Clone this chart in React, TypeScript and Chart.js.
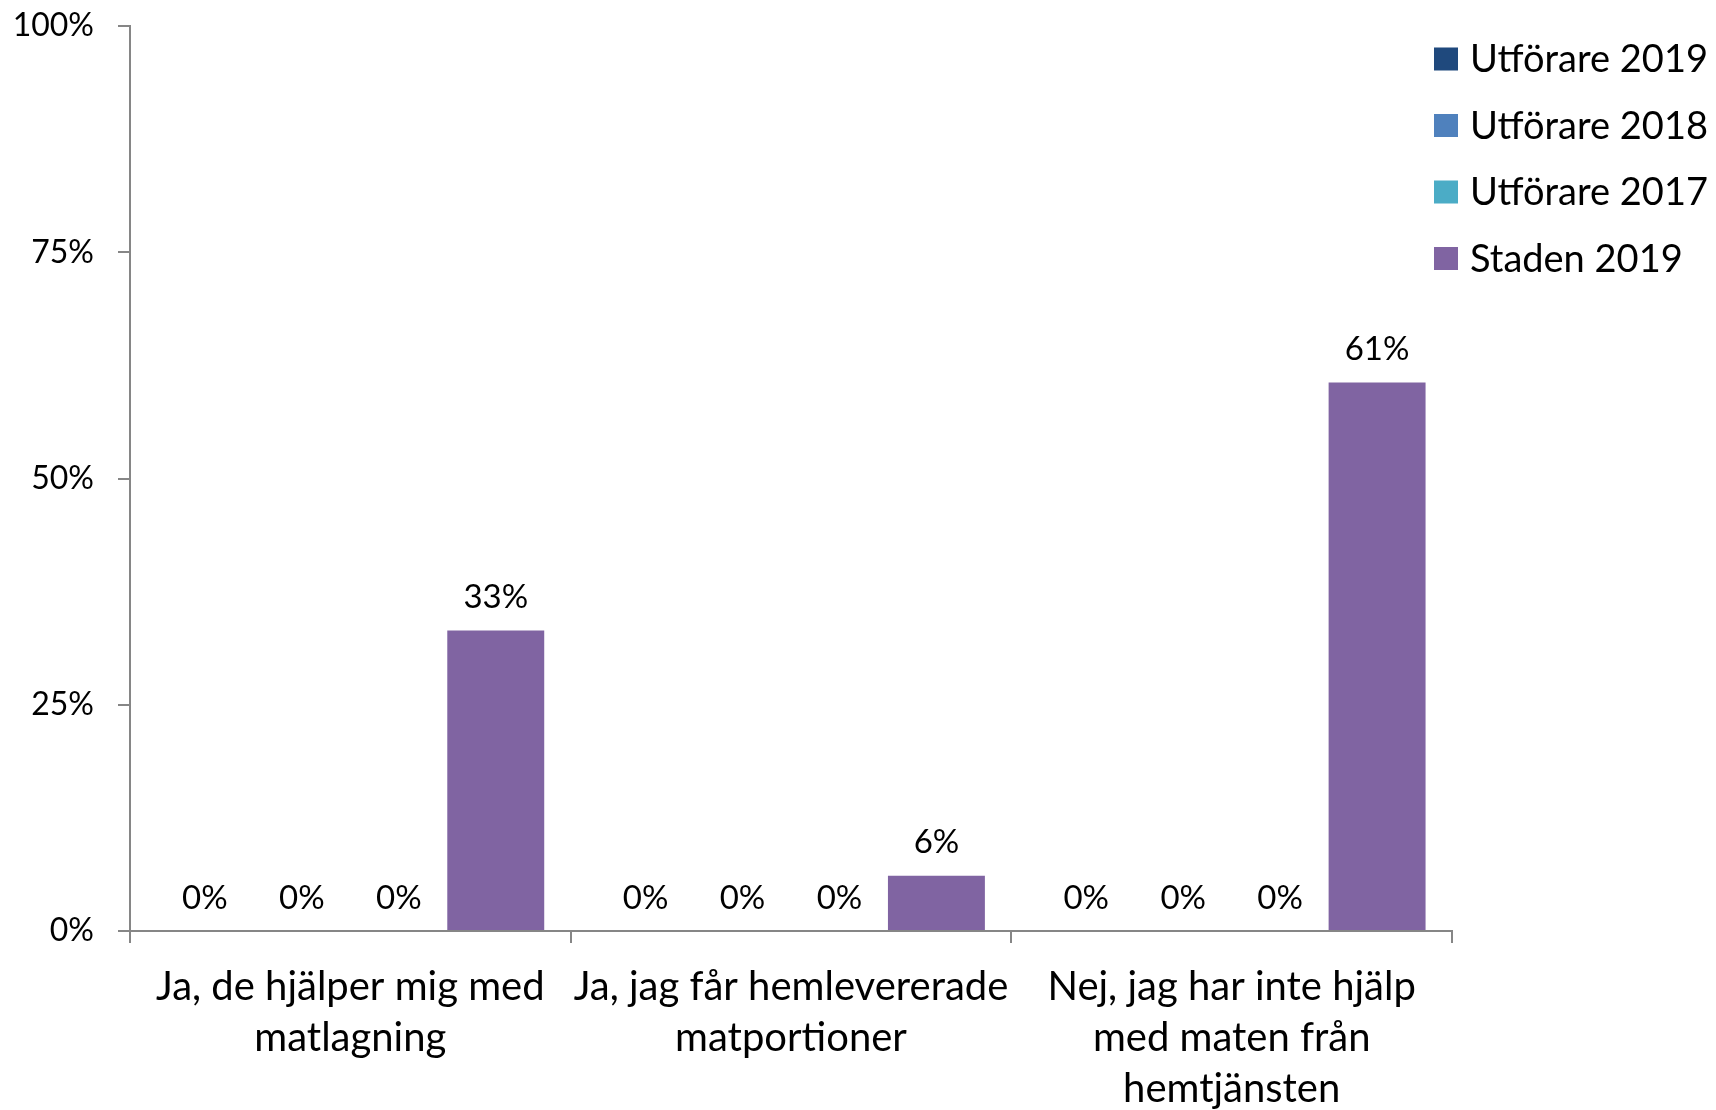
import React, { useEffect, useRef } from 'react';
import { Chart, registerables } from 'chart.js';

Chart.register(...registerables);

const categories: string[][] = [
  ['Ja, de hjälper mig med', 'matlagning'],
  ['Ja, jag får hemlevererade', 'matportioner'],
  ['Nej, jag har inte hjälp', 'med maten från', 'hemtjänsten'],
];
const seriesNames = ['Utförare 2019', 'Utförare 2018', 'Utförare 2017', 'Staden 2019'];
const utforare2019 = [0, 0, 0];
const utforare2018 = [0, 0, 0];
const utforare2017 = [0, 0, 0];
const staden2019 = [33.2, 6.1, 60.6];
const yTickValues = [0, 25, 50, 75, 100];
const seriesColors = ['#1F497D', '#4F81BD', '#4BACC6', '#8064A2'];

const FONT = 'Lato';
const AXIS_COLOR = '#868686';

const valueLabels = {
  id: 'valueLabels',
  afterDatasetsDraw(chart: any) {
    const ctx = chart.ctx;
    ctx.save();
    ctx.font = `33px ${FONT}`;
    ctx.fillStyle = '#000';
    ctx.textAlign = 'center';
    ctx.textBaseline = 'middle';
    chart.data.datasets.forEach((ds: any, i: number) => {
      const meta = chart.getDatasetMeta(i);
      meta.data.forEach((el: any, j: number) => {
        const v = ds.data[j];
        ctx.fillText(Math.round(v) + '%', el.x, el.y - 33);
      });
    });
    ctx.restore();
  },
};

const sideLegend = {
  id: 'sideLegend',
  afterDraw(chart: any) {
    const ctx = chart.ctx;
    const x0 = chart.chartArea.right - 18;
    ctx.save();
    ctx.font = `38px ${FONT}`;
    ctx.textAlign = 'left';
    ctx.textBaseline = 'middle';
    chart.data.datasets.forEach((ds: any, i: number) => {
      const cy = 59 + i * 66.5;
      ctx.fillStyle = ds.backgroundColor;
      ctx.fillRect(x0, cy - 11.5, 24, 23);
      ctx.fillStyle = '#000';
      ctx.fillText(ds.label, x0 + 36, cy + 1);
    });
    ctx.restore();
  },
};

export default function App() {
  const ref = useRef<HTMLCanvasElement>(null);
  useEffect(() => {
    document.body.style.margin = '0';
    const series = [utforare2019, utforare2018, utforare2017, staden2019];
    const chart = new Chart(ref.current!, {
      type: 'bar',
      data: {
        labels: categories,
        datasets: series.map((d, i) => ({
          label: seriesNames[i],
          data: d,
          backgroundColor: seriesColors[i],
          borderWidth: 0,
          categoryPercentage: 0.88,
          barPercentage: 1.0,
        })),
      },
      options: {
        responsive: false,
        animation: false,
        devicePixelRatio: 1,
        layout: { padding: { top: 26, right: 264, left: 0, bottom: 0 } },
        plugins: {
          legend: { display: false },
          tooltip: { enabled: false },
        },
        scales: {
          x: {
            grid: {
              offset: true,
              drawOnChartArea: false,
              drawTicks: true,
              tickLength: 12,
              color: AXIS_COLOR,
              lineWidth: 2,
            },
            border: { color: AXIS_COLOR, width: 2 },
            ticks: {
              color: '#000',
              font: { family: FONT, size: 40, lineHeight: '51px' as any },
              padding: 19,
              maxRotation: 0,
              autoSkip: false,
            },
            afterFit: (s: any) => {
              s.height = 179;
            },
          },
          y: {
            min: 0,
            max: 100,
            afterBuildTicks: (s: any) => {
              s.ticks = yTickValues.map((v) => ({ value: v }));
            },
            grid: {
              drawOnChartArea: false,
              drawTicks: true,
              tickLength: 12,
              color: AXIS_COLOR,
              lineWidth: 2,
            },
            border: { color: AXIS_COLOR, width: 2 },
            ticks: {
              color: '#000',
              font: { family: FONT, size: 32 },
              padding: 24,
              callback: (v: any) => v + '%',
            },
            afterFit: (s: any) => {
              s.width = 130;
              s.paddingTop = 20;
              s.paddingBottom = 20;
            },
          },
        },
      },
      plugins: [valueLabels, sideLegend],
    });
    return () => chart.destroy();
  }, []);
  return (
    <div style={{ width: 1716, height: 1110 }}>
      <canvas ref={ref} width={1716} height={1110} />
    </div>
  );
}
